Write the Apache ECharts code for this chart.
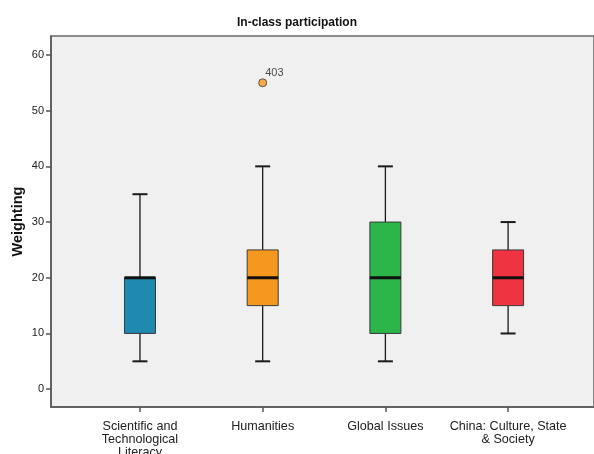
<!DOCTYPE html>
<html><head><meta charset="utf-8">
<script src="https://cdn.jsdelivr.net/npm/echarts@6/dist/echarts.min.js"></script>
<style>html,body{margin:0;padding:0;background:#fff}#c{width:594px;height:454px}</style>
</head><body><div id="c"></div>
<script>
const categories = ['Scientific and\nTechnological\nLiteracy', 'Humanities', 'Global Issues', 'China: Culture, State\n& Society'];
const whiskerLow = [5, 5, 5, 10];
const q1Values = [10, 15, 10, 15];
const medianValues = [20, 20, 20, 20];
const q3Values = [20, 25, 30, 25];
const whiskerHigh = [35, 40, 40, 30];
const boxColors = ['#2089b0', '#f7981e', '#2cb64a', '#ef3340'];
const outlierPositions = [2];
const outlierValues = [55];
const outlierLabels = ['403'];
const yTicks = [0, 10, 20, 30, 40, 50, 60];
const xTicks = [1, 2, 3, 4];

const boxData = categories.map((c, i) => ({
  value: [i + 1, whiskerLow[i], q1Values[i], medianValues[i], q3Values[i], whiskerHigh[i]],
  itemStyle: { color: boxColors[i] }
}));
const outlierData = outlierValues.map((v, i) => ({
  value: [outlierPositions[i], v],
  label: { formatter: outlierLabels[i] }
}));

function renderBox(params, api) {
  const x = api.value(0);
  const lo = api.coord([x, api.value(1)]);
  const b1 = api.coord([x, api.value(2)]);
  const md = api.coord([x, api.value(3)]);
  const b3 = api.coord([x, api.value(4)]);
  const hi = api.coord([x, api.value(5)]);
  const cx = lo[0];
  const hw = 15.5, cw = 7.5;
  const color = boxColors[params.dataIndex];
  const ls = { stroke: '#1a1a1a', lineWidth: 1.3 };
  return {
    type: 'group',
    children: [
      { type: 'line', shape: { x1: cx, y1: hi[1], x2: cx, y2: b3[1] }, style: ls },
      { type: 'line', shape: { x1: cx, y1: b1[1], x2: cx, y2: lo[1] }, style: ls },
      { type: 'line', shape: { x1: cx - cw, y1: hi[1], x2: cx + cw, y2: hi[1] }, style: { stroke: '#1a1a1a', lineWidth: 2 } },
      { type: 'line', shape: { x1: cx - cw, y1: lo[1], x2: cx + cw, y2: lo[1] }, style: { stroke: '#1a1a1a', lineWidth: 2 } },
      { type: 'rect', shape: { x: cx - hw, y: b3[1], width: hw * 2, height: b1[1] - b3[1] }, style: { fill: color, stroke: '#3a3a3a', lineWidth: 1 } },
      { type: 'line', shape: { x1: cx - hw, y1: md[1], x2: cx + hw, y2: md[1] }, style: { stroke: '#111', lineWidth: 3 } }
    ]
  };
}

const chart = echarts.init(document.getElementById('c'), null, { renderer: 'canvas' });
chart.setOption({
  animation: false,
  backgroundColor: '#ffffff',
  title: {
    text: 'In-class participation',
    left: 'center', top: 12,
    textStyle: { fontFamily: 'Liberation Sans', fontSize: 12, fontWeight: 'bold', color: '#111' }
  },
  grid: {
    left: 51, top: 36, right: 0, bottom: 47,
    containLabel: false, outerBoundsMode: 'none',
    show: true, backgroundColor: '#f0f0f0', borderColor: '#6a6a6a', borderWidth: 1.5
  },
  xAxis: {
    type: 'value', min: 0.275, max: 4.70,
    axisLine: { show: true, onZero: false, lineStyle: { color: '#555', width: 1.5 } },
    axisTick: { show: true, customValues: xTicks, length: 5, lineStyle: { color: '#555', width: 1.5 } },
    axisLabel: {
      customValues: xTicks,
      formatter: v => categories[Math.round(v) - 1],
      fontFamily: 'Liberation Sans', fontSize: 12.6, lineHeight: 13, color: '#222', margin: 13
    },
    splitLine: { show: false }
  },
  yAxis: {
    type: 'value', min: -3.2, max: 63.4,
    name: 'Weighting', nameLocation: 'middle', nameGap: 26, nameRotate: 90, nameMoveOverlap: false,
    nameTextStyle: { fontFamily: 'Liberation Sans', fontSize: 14.5, fontWeight: 'bold', color: '#111' },
    axisLine: { show: true, onZero: false, lineStyle: { color: '#555', width: 1.5 } },
    axisTick: { show: true, customValues: yTicks, length: 5, lineStyle: { color: '#555', width: 1.5 } },
    axisLabel: {
      customValues: yTicks,
      fontFamily: 'Liberation Sans', fontSize: 11, color: '#222', margin: 7
    },
    splitLine: { show: false }
  },
  series: [
    {
      type: 'custom', renderItem: renderBox,
      encode: { x: 0, y: [1, 2, 3, 4, 5] },
      data: boxData
    },
    {
      type: 'scatter', data: outlierData, symbol: 'circle', symbolSize: 8,
      itemStyle: { color: '#f7981e', borderColor: '#3a3a3a', borderWidth: 1 },
      label: {
        show: true, position: [7, -11],
        fontFamily: 'Liberation Sans', fontSize: 11, color: '#222'
      }
    }
  ]
});
</script>
</body></html>
